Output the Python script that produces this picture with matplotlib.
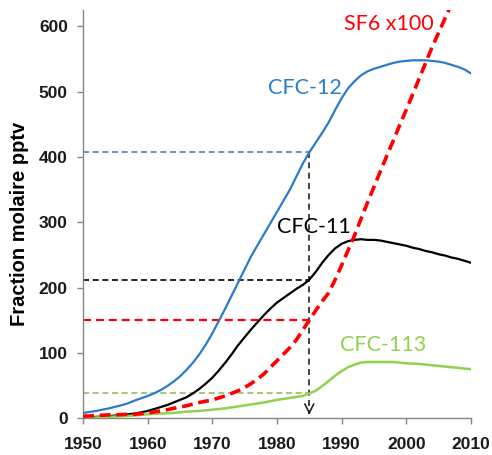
import numpy as np
import matplotlib
matplotlib.use("Agg")
import matplotlib.pyplot as plt

# Annual mixing ratios (pptv), 1950-2010
years = np.arange(1950, 2011)

cfc12 = [8, 9.5, 11, 13, 15, 17.5, 20, 23, 27, 30.5,
         34, 38, 43, 49, 56, 64, 74, 85, 98, 113,
         130, 149, 168, 188, 208, 228, 248, 265, 282, 299,
         316, 333, 350, 370, 390, 407, 422, 437, 453, 472,
         490, 505, 516, 525, 531, 535, 538, 541, 544, 546,
         547, 548, 548, 548, 547, 546, 544, 541, 538, 534, 528]
cfc11 = [1, 1.5, 2, 2.5, 3, 4, 5, 6, 7, 9,
         11, 14, 17, 20, 24, 28, 32, 38, 45, 53,
         62, 73, 85, 98, 112, 124, 136, 147, 158, 168,
         177, 184, 191, 198, 204, 212, 224, 238, 250, 260,
         267, 271, 273, 274, 273, 273, 272, 270, 268, 266,
         264, 261, 259, 256, 254, 251, 249, 246, 244, 241, 238]
sf6_x100 = [3, 3.5, 4, 4.5, 5, 5, 5.5, 6, 6, 7,
            8, 9.5, 11, 13, 15, 17, 19, 21.5, 24, 26,
            28, 31, 34, 38, 42, 47, 53, 60, 68, 78,
            88, 98, 108, 120, 135, 150, 165, 179, 192, 212,
            234, 257, 280, 305, 330, 354, 378, 402, 425, 449,
            472, 496, 520, 544, 568, 590, 612, 634, 655, 677, 700]
cfc113 = [0, 0.5, 1, 1.5, 2, 2.5, 3, 3.5, 4, 5,
          6, 6.5, 7, 7.5, 8, 9, 10, 10.5, 11, 12,
          13, 14, 15, 16.5, 18, 19.5, 21, 22.5, 24, 26,
          28, 29.5, 31, 32.5, 34, 38, 42, 49, 57, 65,
          72, 78, 82, 85, 86, 86, 86, 86, 86, 85,
          84, 83.5, 83, 82, 81, 80, 79, 78, 77, 76, 75]

ref_year = 1985

x_ticks = list(range(1950, 2011, 10))
y_ticks = list(range(0, 601, 100))

blue = "#2b7bcb"
green = "#92d050"
red = "#ff0000"

fig = plt.figure(figsize=(4.92, 4.55), dpi=100)
ax = fig.add_axes([0.169, 0.081, 0.788, 0.897])

series = [(cfc12, "#4f81bd"), (cfc11, "black"), (sf6_x100, red), (cfc113, "#9bbb59")]
for vals, col in series:
    v = np.interp(ref_year, years, vals)
    lw = 1.6 if col == red else 1.2
    ax.plot([1950, ref_year], [v, v], color=col, lw=lw, ls=(0, (3.6, 2.2)), zorder=1)

top = np.interp(ref_year, years, cfc12)
ax.plot([ref_year, ref_year], [top, 6], color="#222222", lw=1.2, ls=(0, (3.6, 2.6)), zorder=1)
ax.annotate("", xy=(ref_year, 1), xytext=(ref_year, 14),
            arrowprops=dict(arrowstyle="->", color="#222222", lw=1.2, mutation_scale=16))

ax.plot(years, cfc12, color=blue, lw=1.6, zorder=3)
ax.plot(years, cfc11, color="black", lw=1.6, zorder=3)
ax.plot(years, cfc113, color=green, lw=1.8, zorder=3)
ax.plot(years, sf6_x100, color=red, lw=2.6, ls=(0, (3.0, 1.6)), zorder=4)

lab_font = dict(family=["Lato", "DejaVu Sans"], fontsize=15.5, ha="center", va="center")
ax.text(1984.3, 505, "CFC-12", color=blue, **lab_font)
ax.text(1985.7, 292, "CFC-11", color="black", **lab_font)
ax.text(1997.3, 604, "SF6 x100", color=red, **lab_font)
ax.text(1996.5, 112, "CFC-113", color=green, **lab_font)

ax.set_xlim(1950, 2010)
ax.set_ylim(0, 625)
ax.set_xticks(x_ticks)
ax.set_yticks(y_ticks)

for side in ["top", "right"]:
    ax.spines[side].set_visible(False)
for side in ["left", "bottom"]:
    ax.spines[side].set_color("#868686")
    ax.spines[side].set_linewidth(1.0)

ax.tick_params(direction="out", length=4, width=1.0, color="#868686",
               labelsize=12.5, labelcolor="#1a1a1a")
ax.tick_params(axis="y", pad=7)
ax.tick_params(axis="x", pad=9.5)
for lbl in ax.get_xticklabels() + ax.get_yticklabels():
    lbl.set_fontweight("bold")
    lbl.set_family("Liberation Sans")

ax.set_ylabel("Fraction molaire pptv", fontsize=14.5, fontweight="bold",
              family="Liberation Sans")
ax.yaxis.set_label_coords(-0.14, 0.475)

fig.savefig("out.png", dpi=100)
